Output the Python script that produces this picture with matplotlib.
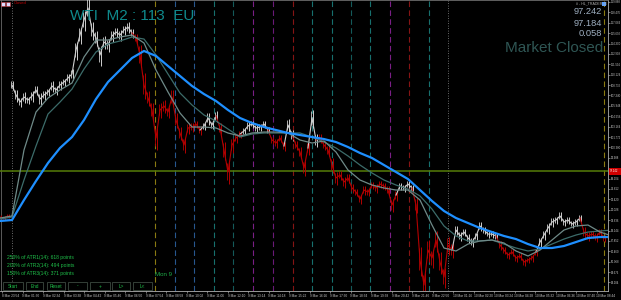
import numpy as np
import matplotlib
matplotlib.use("Agg")
import matplotlib.pyplot as plt
from matplotlib.patches import Rectangle

plt.rcParams['font.family'] = ['Liberation Sans', 'DejaVu Sans']

# WTI, M2 chart, one price every 6 bars (12 min)
close = [91.05, 90.92, 91.19,
         108.74, 107.40, 106.46, 107.13, 106.73, 107.27, 108.07, 106.86, 107.40, 107.80,
         108.61, 108.07, 108.74, 109.14, 109.68, 110.21,
         113.43, 115.44, 117.45, 119.06, 116.11, 115.04, 112.76, 114.50, 114.10, 115.31,
         115.84, 115.44, 116.11, 116.51, 115.71,
         115.04, 112.76, 108.74, 107.00, 105.39, 101.64, 105.39, 105.93, 105.12, 107.13,
         104.05, 102.31, 100.70, 102.98, 103.11, 103.51, 102.71,
         103.25, 104.32, 103.38, 104.59,
         102.98, 100.03, 97.08, 100.70, 101.64, 102.17,
         102.58, 103.25, 103.51, 102.98, 103.11, 103.51, 102.71,
         101.37, 100.97, 101.64, 100.57,
         103.38, 102.04,
         100.70, 99.76, 97.62, 100.30,
         104.32, 101.37,
         101.64, 100.70, 100.03, 98.02, 96.28, 96.68, 95.74, 96.28, 94.94, 94.40,
         93.46, 94.67, 94.40, 95.34, 94.94, 95.47, 95.21, 94.67, 92.66, 94.00,
         95.21, 94.94, 95.47, 94.94,
         92.66, 85.29, 81.94, 86.63, 85.56, 87.97, 85.02, 83.01, 87.30, 86.63,
         89.31, 88.51, 89.04, 88.24, 87.70, 88.51, 89.85, 89.31, 88.77, 88.77, 88.51,
         87.30, 86.63, 85.96, 86.36, 85.56, 85.83, 85.02, 85.29, 85.56, 86.36,
         87.70, 88.64, 89.58, 90.38, 90.65, 91.19, 90.38, 90.65, 90.11, 90.38, 90.92,
         89.04, 88.51, 88.77, 88.37, 89.04, 88.24]

# high-low range of the bars in each 12 min step
swing = [0.5, 0.5, 0.5,
         1.3, 1.6, 1.2, 1.4, 1.0, 1.5, 1.3, 1.8, 1.2, 1.0, 1.4, 1.1, 1.3, 1.0, 1.2, 1.5,
         2.5, 2.2, 2.8, 3.0, 2.4, 2.0, 2.6, 1.8, 1.6, 1.5, 1.2, 1.4, 1.3, 1.5, 1.2,
         1.2, 3.0, 3.5, 2.0, 2.2, 3.0, 2.0, 1.8, 1.5, 2.2, 2.0, 1.8, 2.0, 1.4, 1.2, 1.0, 1.2,
         1.0, 1.6, 1.0, 1.5,
         1.5, 2.5, 3.0, 2.0, 1.2, 1.0,
         1.0, 1.2, 0.9, 1.0, 1.0, 0.9, 1.0,
         1.0, 1.2, 1.0, 1.3,
         1.8, 1.4,
         1.2, 1.5, 2.0, 1.6,
         2.5, 1.8,
         1.2, 1.2, 1.5, 2.0, 1.8, 1.3, 1.5, 1.2, 1.2, 1.0,
         1.3, 1.2, 1.0, 1.0, 1.1, 1.0, 1.0, 1.2, 1.8, 1.4,
         1.0, 0.9, 1.0, 1.0,
         2.0, 4.0, 3.5, 3.0, 2.5, 2.8, 3.0, 2.6, 2.5, 2.0,
         1.3, 1.2, 1.0, 1.1, 1.2, 1.0, 1.3, 1.0, 0.9, 0.9, 1.0,
         1.2, 1.0, 1.0, 0.9, 1.0, 0.9, 1.0, 0.8, 0.9, 1.0,
         1.2, 1.3, 1.4, 1.2, 1.0, 1.2, 1.0, 1.0, 0.9, 1.0, 1.0,
         1.4, 1.2, 1.0, 1.2, 1.0, 1.0]

# runs of bar colour: r = bearish (red), w = bullish (white)
bar_runs = [("r", 3), ("w", 31), ("r", 17), ("w", 4), ("r", 6), ("w", 7), ("r", 4),
            ("w", 2), ("r", 4), ("w", 2), ("r", 20), ("w", 4), ("r", 10), ("w", 11),
            ("r", 10), ("w", 11), ("r", 6)]
weekend_gap = 3  # first bar of the 9 Mar session

# moving averages, one value every 18 bars
ma_slow = [90.52, 90.65, 93.33, 95.88, 98.29, 100.30, 101.77, 104.05, 106.86, 109.14,
           110.75, 112.36, 113.30, 112.63, 111.29, 109.95, 108.61, 107.53, 106.60, 105.39,
           104.32, 103.65, 103.11, 102.71, 102.31, 102.04, 101.77, 101.50, 101.10, 100.43,
           99.63, 98.96, 98.02, 97.08, 96.14, 94.67, 93.20, 91.86, 90.92, 90.25,
           89.58, 89.04, 88.51, 88.10, 87.43, 86.90, 86.90, 87.17, 87.70, 88.24,
           88.37, 88.37]
ma_fast = [90.92, 91.19, 100.03, 105.12, 107.00, 108.07, 109.01, 112.49, 114.77, 114.77,
           115.17, 115.44, 114.37, 110.75, 107.80, 104.99, 103.11, 103.11, 102.98, 102.31,
           101.91, 102.31, 102.44, 102.44, 102.31, 101.37, 100.97, 101.24, 99.76, 97.35,
           96.01, 95.34, 94.94, 94.67, 94.67, 93.33, 89.98, 86.90, 86.50, 87.43,
           87.84, 87.97, 87.57, 86.50, 85.83, 86.63, 87.97, 89.31, 89.85, 89.98,
           89.04, 88.51]
ma_mid = [90.78, 91.05, 96.01, 100.57, 104.85, 106.46, 108.20, 110.88, 113.16, 114.23,
          114.64, 115.17, 114.90, 112.76, 110.21, 107.67, 106.06, 104.72, 103.92, 102.84,
          101.77, 102.17, 102.31, 102.31, 102.31, 102.31, 101.77, 101.10, 100.30, 99.23,
          98.02, 96.95, 96.01, 95.34, 94.80, 93.87, 92.12, 89.85, 88.51, 87.84,
          87.84, 87.97, 87.43, 86.90, 86.50, 86.77, 87.43, 88.10, 88.64, 89.04,
          89.18, 89.31]

# hour / session markers (in 12-minute steps) and their colours
marker_pos = [38.75, 43.75, 48.5, 53.5, 58.25, 63.25, 68.25, 73.25, 78, 83, 87.75,
              92.5, 97.5, 102.25, 107.25, 151]
marker_col = ["#8a7a12", "#27578f", "#27578f", "#17706e", "#145a5a", "#7a1f86",
              "#6a1a78", "#861414", "#17706e", "#17706e", "#145a5a", "#17706e",
              "#7a1f86", "#861414", "#17706e", "#8a7a12"]
session_pos = [3, 112]

bid = 97.242
ask = 97.184
price_ticks = [82.284, 83.676, 85.068, 86.460, 87.852, 89.244, 90.636, 92.028, 93.420,
               94.812, 96.204, 98.988, 100.380, 101.772, 103.164, 104.556,
               105.948, 107.340, 108.732, 110.124, 111.516, 112.908, 114.300, 115.692,
               117.084, 118.476, 119.868]
time_labels = ["8 Mar 23:54", "9 Mar 01:30", "9 Mar 02:34", "9 Mar 03:38", "9 Mar 04:42",
               "9 Mar 05:46", "9 Mar 06:50", "9 Mar 07:54", "9 Mar 08:58", "9 Mar 10:02",
               "9 Mar 11:06", "9 Mar 12:10", "9 Mar 13:14", "9 Mar 14:18", "9 Mar 15:22",
               "9 Mar 16:26", "9 Mar 17:30", "9 Mar 18:34", "9 Mar 19:38", "9 Mar 20:42",
               "9 Mar 21:46", "9 Mar 22:50", "10 Mar 01:16", "10 Mar 02:20", "10 Mar 03:24",
               "10 Mar 04:28", "10 Mar 05:32", "10 Mar 06:36", "10 Mar 07:40", "10 Mar 08:44"]
atr_lines = ["250% of ATR1(14): 618 points", "200% of ATR2(14): 494 points",
             "150% of ATR3(14): 371 points"]
buttons = ["Start", "End", "Reset", "-", "+", "L>", "L<"]

W, H = 621, 300
fig = plt.figure(figsize=(W / 100, H / 100), dpi=100, facecolor="black")
ax = fig.add_axes([0, 9 / H, 608 / W, 291 / H])
ax.set_facecolor("black")
ax.set_xlim(0, 152)
ax.set_ylim(81.14, 120.13)


def px(x, y):
    return x / W, 1 - y / H


# markers
ax.axvline(0.35, color="#6a6a6a", lw=0.6, zorder=1)
for p in session_pos:
    ax.axvline(p, color="#8c8c8c", lw=0.6, ls=(0, (1, 2)), zorder=1)
for p, c in zip(marker_pos, marker_col):
    ax.axvline(p, color=c, lw=0.8, ls=(0, (5, 3)), zorder=1)
ax.axhline(bid, color="#567c08", lw=1.1, zorder=2)

# price bars
close = np.array(close)
swing = np.array(swing)
t = np.arange(len(close))
start = 0
for c, n in bar_runs:
    col = "#cfcfcf" if c == "w" else "#b40000"
    s = start if start in (0, weekend_gap) else start - 1
    ax.plot(t[s:start + n], close[s:start + n], lw=0.8, color=col, zorder=3)
    seg = slice(start, start + n)
    ax.vlines(t[seg] + 0.3, close[seg] - swing[seg] * 0.55, close[seg] + swing[seg] * 0.45,
              color=col, lw=0.7, zorder=3)
    ax.vlines(t[seg] - 0.3, close[seg] - swing[seg] * 0.35, close[seg] + swing[seg] * 0.4,
              color=col, lw=0.6, zorder=3)
    start += n

tm = np.arange(len(ma_slow)) * 3
ax.plot(tm, ma_mid, color="#3c6c6a", lw=0.9, zorder=4)
ax.plot(tm, ma_fast, color="#6f8a88", lw=0.9, zorder=4)
ax.plot(tm, ma_slow, color="#1e8fff", lw=1.6, zorder=5)

# axes
ax.spines["left"].set_visible(False)
ax.spines["top"].set_color("#707070")
ax.spines["right"].set_color("#b0b0b0")
ax.spines["bottom"].set_color("#b0b0b0")
for s in ["top", "right", "bottom"]:
    ax.spines[s].set_linewidth(0.6)
ax.yaxis.tick_right()
ax.set_yticks(price_ticks)
ax.set_yticklabels(["%.3f" % v for v in price_ticks])
ax.tick_params(axis="y", labelsize=2.0, colors="#c8c8c8", length=1.5, width=0.4, pad=0.8)
ax.set_xticks(0.5 + np.arange(len(time_labels)) * 5.125)
ax.set_xticklabels(time_labels)
ax.tick_params(axis="x", labelsize=2.3, colors="#c8c8c8", length=1.5, width=0.4, pad=1)
for lab in ax.get_xticklabels():
    lab.set_horizontalalignment("left")

# price label on scale
fig.add_artist(Rectangle(px(608.5, 174.5), 12.5 / W, 7 / H, transform=fig.transFigure,
                         fc="#d00000", ec="none"))
fig.text(*px(610, 171), "%.3f" % bid, fontsize=2.0, color="white", va="center")

# texts
fig.text(*px(70, 16), "WTI  M2 : 113  EU", fontsize=11, color="#0f8a8c", va="center")
fig.text(*px(602, 12), "%.3f" % bid, fontsize=6.7, color="#9fb0c2", ha="right", va="center")
fig.text(*px(602, 23), "%.3f" % ask, fontsize=6.7, color="#9fb0c2", ha="right", va="center")
fig.text(*px(602, 34), "%.3f" % (bid - ask), fontsize=6.7, color="#9fb0c2", ha="right",
         va="center")
fig.text(*px(603, 48), "Market Closed", fontsize=11, color="#2f5654", ha="right", va="center")
fig.text(*px(14, 3.5), "Closed", fontsize=3, color="#c00000", va="center")
fig.text(*px(576, 3.5), "# - HL_TRADER_B", fontsize=2.6, color="#b0b0b0", va="center")
fig.add_artist(Rectangle(px(602, 6), 4 / W, 4 / H, transform=fig.transFigure,
                         fc="#5aa0ff", ec="none"))
for k in range(2):
    fig.add_artist(Rectangle(px(1 + 5 * k, 6), 4 / W, 4 / H, transform=fig.transFigure,
                             fc="#dcdcff", ec="#c03030", lw=0.4))

for k, line in enumerate(atr_lines):
    fig.text(*px(7, 258 + 8 * k), line, fontsize=3.6, color="#1fc04a", va="center")
fig.text(*px(155, 274.5), "Mon 9", fontsize=4.4, color="#1fb04a", va="center")

bx = [3, 26, 47, 68, 90, 112, 133]
bw = [20, 17, 18, 19, 20, 18, 19]
for b, x0, w in zip(buttons, bx, bw):
    fig.add_artist(Rectangle(px(x0, 290), w / W, 8 / H, transform=fig.transFigure,
                             fc="black", ec="#3c4a40", lw=0.6))
    fig.text(*px(x0 + w / 2, 286), b, fontsize=3.4, color="#1fc04a", ha="center",
             va="center")

fig.savefig("out.png", dpi=100, facecolor="black")
